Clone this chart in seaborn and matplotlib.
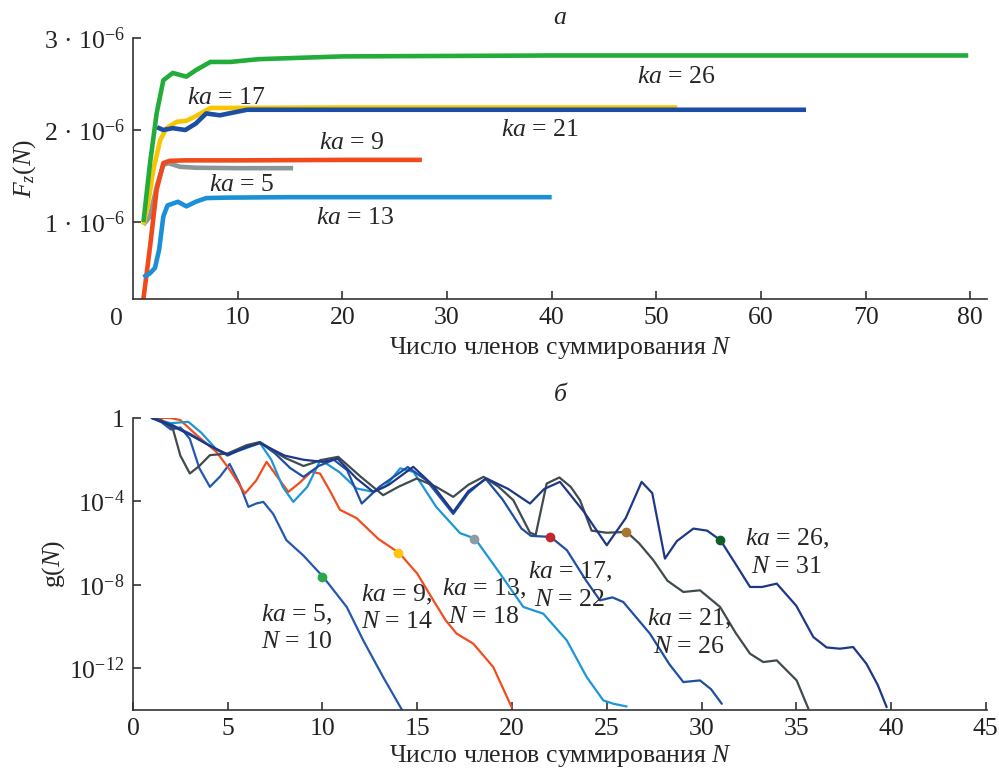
import numpy as np
import pandas as pd
import seaborn as sns
import matplotlib
matplotlib.use("Agg")
from matplotlib import pyplot as plt
from matplotlib.ticker import FixedLocator, FixedFormatter

sns.set_style("ticks")
plt.rcParams['font.family'] = ['Liberation Serif', 'DejaVu Serif']
plt.rcParams['mathtext.fontset'] = 'custom'
plt.rcParams['mathtext.rm'] = 'Liberation Serif'
plt.rcParams['mathtext.it'] = 'Liberation Serif:italic'

# ---------- panel a: F_z(N), values in units of 1e-6 ----------
top_ka = [5, 9, 13, 17, 21, 26]
top_N = {
    5: [1, 1.62, 2.3, 2.9, 3.37, 4.5, 6, 10, 15.3],
    9: [0.95, 1.63, 2.26, 2.9, 3.5, 5, 10, 20, 27.6],
    13: [1, 1.6, 2.1, 2.5, 2.9, 3.3, 4.3, 5.1, 6, 7, 9, 15, 40],
    17: [1, 1.45, 1.95, 2.6, 3.2, 4.2, 5.1, 6, 7.4, 10, 20, 52],
    21: [2.3, 2.9, 3.8, 5.0, 6, 7, 8.3, 10.9, 15, 30, 64.3],
    26: [1, 1.63, 2.26, 2.9, 3.8, 5.1, 6, 7.4, 9.3, 12, 20, 40, 79.8],
}
top_F = {
    5: [0.97, 1.06, 1.4, 1.62, 1.64, 1.6, 1.59, 1.585, 1.585],
    9: [0.12, 0.73, 1.35, 1.64, 1.665, 1.67, 1.67, 1.675, 1.675],
    13: [0.40, 0.44, 0.5, 0.7, 1.06, 1.18, 1.22, 1.17, 1.22, 1.26, 1.265, 1.27, 1.27],
    17: [0.97, 1.2, 1.57, 1.89, 2.02, 2.09, 2.1, 2.15, 2.24, 2.24, 2.245, 2.245],
    21: [2.03, 2.0, 2.02, 2.0, 2.07, 2.18, 2.16, 2.22, 2.22, 2.22, 2.22],
    26: [1.0, 1.64, 2.18, 2.54, 2.62, 2.58, 2.65, 2.74, 2.74, 2.77, 2.8, 2.81, 2.81],
}
top_colors = {5: "#8b969b", 9: "#f04a1c", 13: "#1a90d6", 17: "#f7c600",
              21: "#1c4ea6", 26: "#22ad3b"}
top_label_pos = {17: (8.95, 2.345), 26: (51.9, 2.576), 21: (38.9, 2.0),
                 9: (20.9, 1.855), 5: (10.4, 1.40), 13: (21.2, 1.04)}
top_ytick_vals = [1, 2, 3]

# ---------- panel b: log10 g(N) ----------
bot_ka = [5, 9, 13, 17, 21, 26]
bot_N = {
    5: [1, 1.5, 2, 2.5, 3, 3.5, 4.06, 4.6, 5.1, 5.6, 6.09, 6.5, 6.88, 7.4, 8.1, 9, 10.04,
        11.28, 12.15, 13.2, 14.2],
    9: [1, 2, 2.5, 3.36, 4.41, 5.12, 5.91, 6.5, 7.05, 7.6, 8.2, 8.8, 9.4, 9.87, 10.4, 10.92,
        11.8, 12.95, 14.05, 15.0, 15.85, 16.5, 17.08, 17.96, 19.01, 19.98],
    13: [1, 2, 2.92, 3.6, 4.4, 5.0, 5.8, 6.7, 7.3, 7.9, 8.46, 9.2, 9.9, 10.9, 11.8, 12.7,
         13.3, 14.1, 14.8, 16.0, 17.26, 18.05, 19.37, 20.6, 21.65, 22.89, 23.94, 24.82,
         25.35, 26.05],
    17: [1, 2, 3, 4, 5, 5.8, 6.7, 7.5, 8.3, 9.0, 9.8, 10.6, 11.3, 12.07, 13.0, 14.5, 15.5,
         16.9, 17.7, 18.6, 19.5, 20.5, 21.0, 22.04, 22.9, 23.9, 24.64, 25.3, 25.87, 27.28,
         28.3, 29.04, 29.92, 30.5, 31.07],
    21: [1, 1.5, 2.1, 2.5, 3.0, 3.5, 4.06, 5.0, 6.0, 6.7, 8.0, 9.0, 10.0, 10.83, 12.0, 13.2,
         14.0, 14.97, 16.0, 16.9, 17.7, 18.5, 19.3, 20.07, 20.95, 21.25, 21.83, 22.5, 23.1,
         23.59, 24.2, 25.0, 26.05, 26.7, 27.46, 28.2, 29.04, 29.92, 30.98, 31.8, 32.56,
         33.26, 33.97, 35.02, 35.64],
    26: [1, 2, 3, 4, 5, 6, 6.7, 8.0, 9.0, 10.0, 10.8, 11.8, 12.68, 13.5, 14.79, 15.8, 16.9,
         17.7, 18.66, 19.8, 20.95, 21.7, 22.53, 23.8, 25.0, 26.0, 26.84, 27.4, 28.07, 28.7,
         29.57, 30.3, 31.0, 31.8, 32.56, 33.2, 33.97, 35.0, 35.9, 36.6, 37.3, 38.0, 38.7,
         39.3, 39.77],
}
bot_logg = {
    5: [0, -0.2, -0.55, -0.45, -1.0, -2.4, -3.3, -2.8, -2.2, -3.1, -4.26, -4.1, -4.02, -4.6,
        -5.86, -6.6, -7.62, -9.06, -10.66, -12.42, -14.0],
    9: [0, 0, -0.1, -0.82, -1.63, -2.5, -3.62, -3.0, -2.1, -2.8, -3.54, -3.1, -2.58, -2.66,
        -3.5, -4.4, -4.8, -5.8, -6.47, -7.46, -8.74, -9.7, -10.34, -10.82, -11.94, -13.86],
    13: [0, -0.25, -0.18, -0.7, -1.5, -1.75, -1.5, -1.2, -2.0, -3.3, -4.02, -3.3, -2.0, -2.6,
         -3.38, -3.54, -3.3, -2.41, -2.58, -4.26, -5.52, -5.78, -7.46, -9.06, -9.38, -10.66,
         -12.42, -13.54, -13.7, -13.83],
    17: [0, -0.3, -0.75, -1.3, -1.8, -1.45, -1.17, -1.7, -2.4, -2.82, -2.3, -2.0, -2.5, -4.1,
         -3.3, -2.35, -3.0, -4.6, -3.6, -2.9, -3.9, -5.3, -5.65, -5.7, -6.34, -7.78, -8.74,
         -8.6, -8.82, -10.34, -11.8, -12.66, -12.58, -13.0, -13.7],
    21: [0, -0.1, -0.5, -1.8, -2.66, -2.3, -1.78, -1.7, -1.3, -1.15, -1.9, -2.3, -2.0, -1.86,
         -2.8, -3.7, -3.3, -2.9, -3.3, -3.78, -3.2, -2.82, -3.3, -3.94, -5.5, -5.6, -3.14,
         -2.85, -3.3, -3.94, -5.4, -5.5, -5.46, -6.0, -6.82, -7.8, -8.34, -8.26, -9.06,
         -10.3, -11.3, -11.7, -11.62, -12.58, -13.94],
    26: [0, -0.35, -0.8, -1.3, -1.75, -1.4, -1.2, -1.8, -2.0, -2.1, -1.95, -2.9, -3.54, -3.2,
         -2.34, -3.2, -4.5, -3.5, -2.9, -3.4, -4.1, -3.4, -3.06, -4.5, -6.1, -4.8, -3.06,
         -3.6, -6.74, -5.9, -5.3, -5.4, -5.86, -7.0, -8.1, -8.1, -7.94, -9.0, -10.5, -11.0,
         -11.06, -10.98, -11.78, -12.8, -13.86],
}
bot_colors = {5: "#2458b0", 9: "#f04e1e", 13: "#1b97d8", 17: "#1f4fa3",
              21: "#3f4b4e", 26: "#1e3888"}
dot_N = {5: 10, 9: 14, 13: 18, 17: 22, 21: 26, 26: 31}
dot_logg = {5: -7.62, 9: -6.47, 13: -5.78, 17: -5.7, 21: -5.46, 26: -5.86}
dot_colors = {5: "#2aa84a", 9: "#ffc414", 13: "#8d9ba2", 17: "#c0282d",
              21: "#a8742e", 26: "#0f5e2b"}
bot_label_pos = {5: (8.64, -9.46, -10.74), 9: (13.92, -8.5, -9.78),
                 13: (18.52, -8.18, -9.54), 17: (23.06, -7.38, -8.74),
                 21: (29.34, -9.62, -10.98), 26: (34.5, -5.78, -7.14)}
bot_ytick_exp = [-12, -8, -4, 0]

fs = 18.5
fig = plt.figure(figsize=(9.99, 7.71), dpi=100)
ax1 = fig.add_axes([0.1331, 0.6122, 0.855, 0.3385])
ax2 = fig.add_axes([0.1331, 0.0791, 0.855, 0.3787])

# panel a
for ka in top_ka:
    df = pd.DataFrame({"N": top_N[ka], "F": np.array(top_F[ka]) * 1e-6})
    sns.lineplot(data=df, x="N", y="F", ax=ax1, color=top_colors[ka], lw=3.3,
                 sort=False, solid_capstyle="butt", solid_joinstyle="round")
for ka, (xx, yy) in top_label_pos.items():
    ax1.text(xx, yy * 1e-6, rf"$ka$ = {ka}", fontsize=fs, ha="center", va="center")
ax1.set_xlim(0, 81.6)
ax1.set_ylim(0.163e-6, 3e-6)
ax1.set_xticks([10, 20, 30, 40, 50, 60, 70, 80])
ax1.set_yticks([v * 1e-6 for v in top_ytick_vals])
ax1.set_yticklabels([f"{v} · 10$^{{-6}}$" for v in top_ytick_vals])
ax1.text(-0.019, -0.075, "0", transform=ax1.transAxes, fontsize=fs,
         ha="center", va="center")
ax1.set_xlabel(r"Число членов суммирования $N$", fontsize=fs, labelpad=4)
ax1.set_ylabel(r"$F_z(N)$", fontsize=fs, labelpad=4)
ax1.set_title("а", fontsize=fs, fontstyle="italic", pad=10)

# panel b
ax2.set_yscale("log")
for ka in bot_ka:
    df = pd.DataFrame({"N": bot_N[ka], "g": 10.0 ** np.array(bot_logg[ka])})
    sns.lineplot(data=df, x="N", y="g", ax=ax2, color=bot_colors[ka], lw=1.6, sort=False,
                 solid_joinstyle="round")
for ka in bot_ka:
    ax2.plot([dot_N[ka]], [10.0 ** dot_logg[ka]], "o", color=dot_colors[ka], ms=6,
             zorder=5)
for ka, (xx, y1, y2) in bot_label_pos.items():
    ax2.text(xx, 10.0 ** y1, rf"$ka$ = {ka},", fontsize=fs, ha="center", va="center")
    ax2.text(xx, 10.0 ** y2, rf"$N$ = {dot_N[ka]}", fontsize=fs, ha="center", va="center")
ax2.set_xlim(0, 45.07)
ax2.set_ylim(1e-14, 1)
ax2.set_xticks(range(0, 50, 5))
ax2.yaxis.set_major_locator(FixedLocator([10.0 ** e for e in bot_ytick_exp]))
ax2.yaxis.set_major_formatter(FixedFormatter(
    [("1" if e == 0 else f"10$^{{{e}}}$") for e in bot_ytick_exp]))
ax2.yaxis.set_minor_locator(FixedLocator([]))
ax2.set_xlabel(r"Число членов суммирования $N$", fontsize=fs, labelpad=2)
ax2.set_ylabel(r"g($N$)", fontsize=fs, labelpad=2)
ax2.set_title("б", fontsize=fs, fontstyle="italic", pad=12)

for ax in (ax1, ax2):
    sns.despine(ax=ax)
    ax.tick_params(direction="in", length=6, width=1.1, labelsize=fs, colors="#222222",
                   pad=6)
    for s in ("left", "bottom"):
        ax.spines[s].set_color("#333333")
        ax.spines[s].set_linewidth(1.2)

fig.savefig("out.png", dpi=100)
